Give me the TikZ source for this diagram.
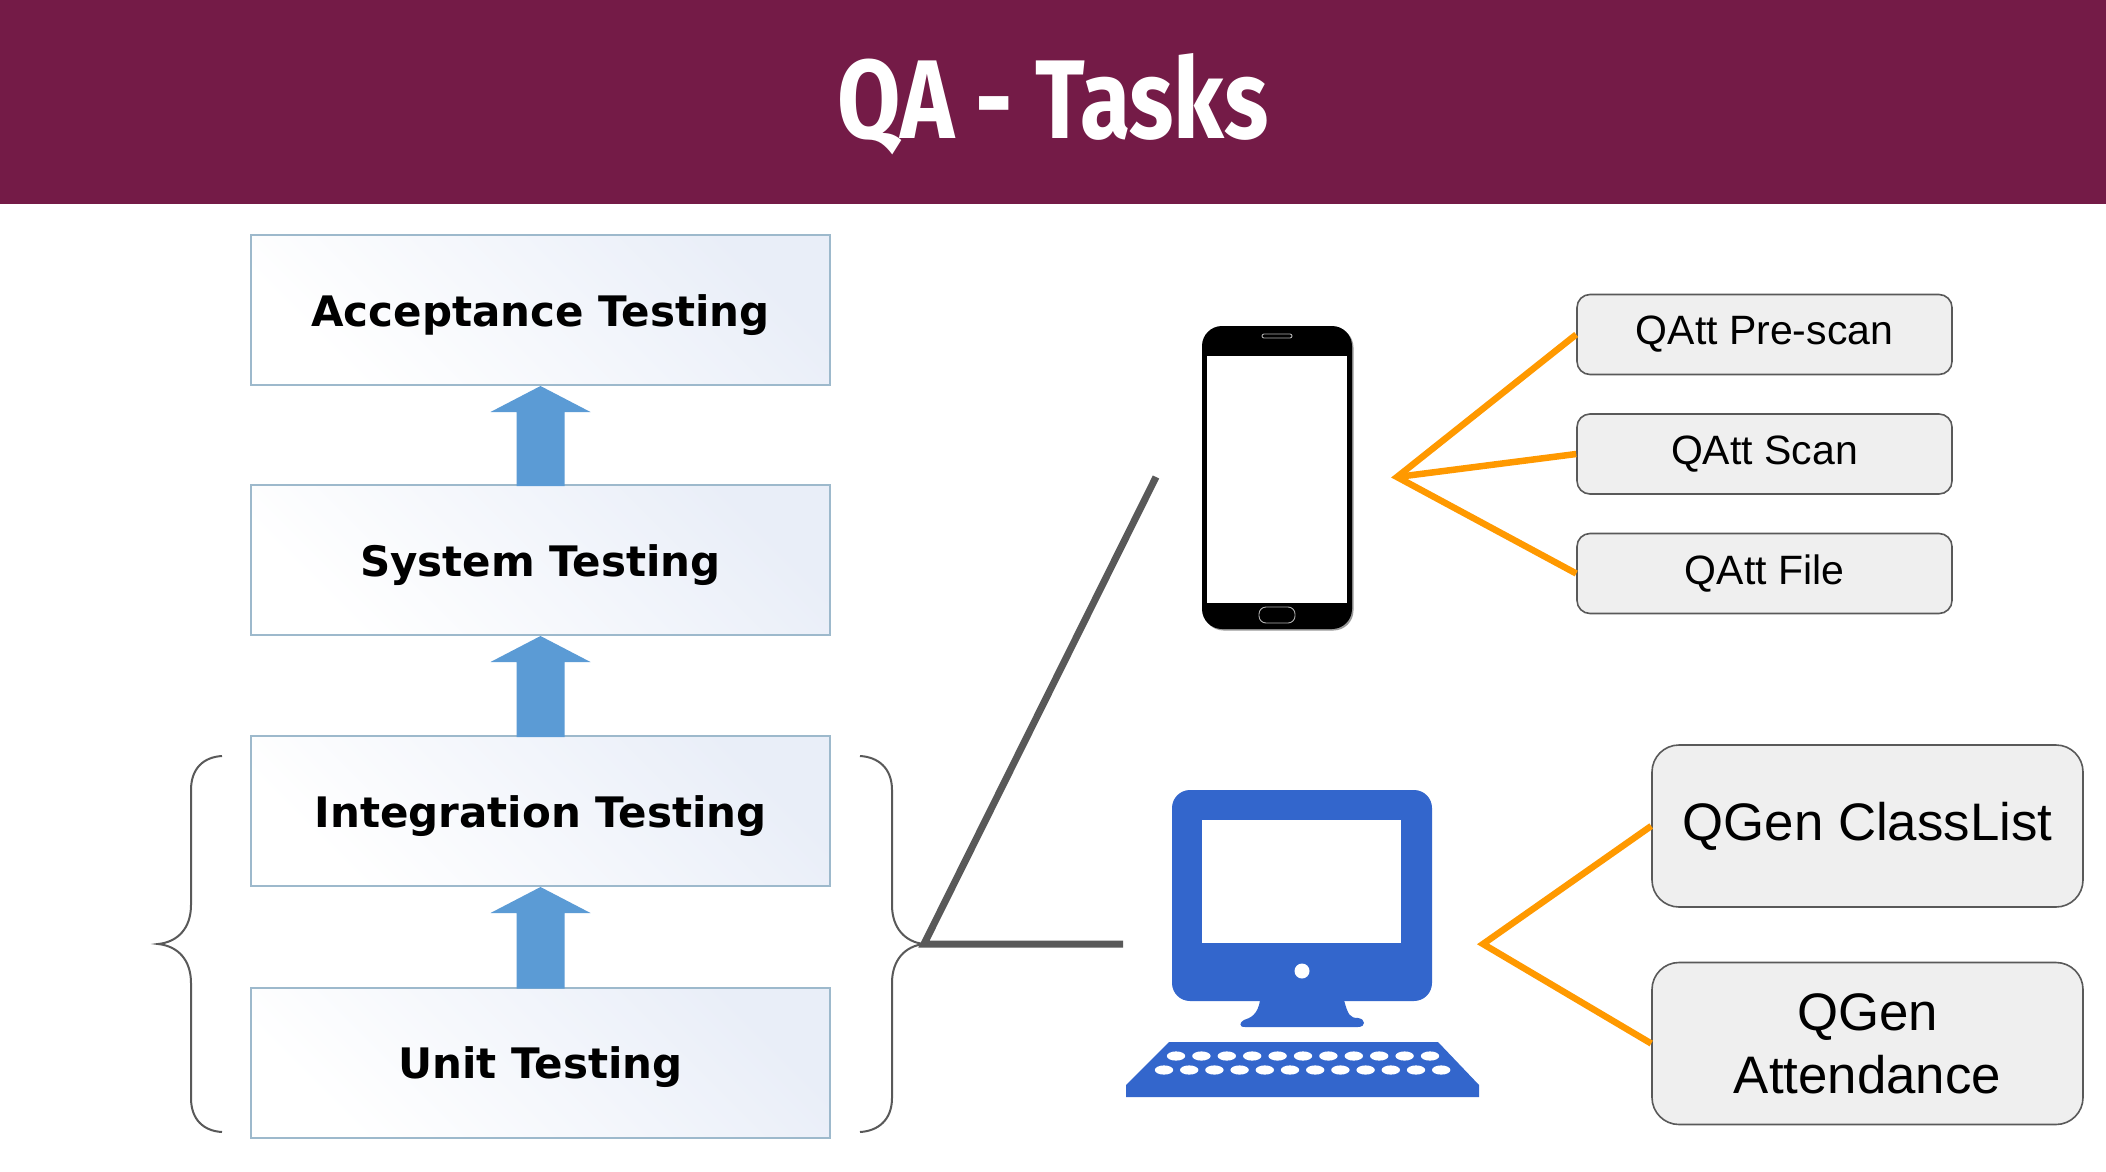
\documentclass[tikz,border=0pt]{standalone}
\usepackage{fontspec}
\usetikzlibrary{calc}
\setmainfont{Liberation Sans}
\newfontfamily\titlefont{Fira Sans}[UprightFont=* Bold]
\newfontfamily\tierfont{DejaVu Sans}[UprightFont=* Bold]
\definecolor{headbar}{HTML}{741B47}
\definecolor{greyline}{HTML}{595959}
\definecolor{orangeline}{HTML}{FF9900}
\definecolor{softbox}{HTML}{EFEFEF}
\definecolor{tierblue}{HTML}{5B9BD5}
\definecolor{tieredge}{HTML}{9DB9CC}
\definecolor{tiershade}{HTML}{E9EEF8}
\definecolor{pcblue}{HTML}{3366CC}
\tikzset{
  tierbox/.style={rectangle,draw=tieredge,line width=2pt,left color=tiershade,right color=white,shading angle=-45,
    minimum width=579pt,minimum height=150pt,inner sep=0pt,text depth=8pt,text height=40pt,
    font=\tierfont\fontsize{42}{48}\selectfont},
  tierarrow/.style={fill=tierblue,draw=none},
  smallbox/.style={rectangle,rounded corners=13pt,draw=greyline,line width=1.6pt,fill=softbox,
    minimum width=375pt,minimum height=80pt,inner sep=0pt,font=\fontsize{41}{47}\selectfont},
  largebox/.style={rectangle,rounded corners=27pt,draw=greyline,line width=1.6pt,fill=softbox,align=center,
    minimum width=431pt,minimum height=162pt,inner sep=0pt,font=\fontsize{52.8}{63}\selectfont},
  orangelink/.style={draw=orangeline,line width=6.5pt},
  greylink/.style={draw=greyline,line width=7pt},
  bracestroke/.style={draw=greyline,line width=2pt},
}
\newcommand{\tierup}[2]{%
  \fill[tierarrow] (#1.south) -- ++(50,26) -- ++(-26,0) -- ($(#2.north)+(24,2)$) -- ($(#2.north)+(-24,2)$)
    -- ($(#1.south)+(-24,26)$) -- ++(-26,0) -- cycle;}
\begin{document}
\begin{tikzpicture}[x=1pt,y=-1pt]
\path[use as bounding box,fill=white] (0,0) rectangle (2106,1172);
\fill[headbar] (0,0) rectangle (2106,204);
\node[anchor=base,text=white,inner sep=0pt] (title) at (1053,138)
  {\titlefont\fontsize{112}{112}\selectfont\scalebox{0.82}[1]{QA - Tasks}};

% test tiers
\node[tierbox] (acc) at (540.5,310) {Acceptance Testing};
\node[tierbox] (sys) at (540.5,560) {System Testing};
\node[tierbox] (int) at (540.5,811) {Integration Testing};
\node[tierbox] (unit) at (540.5,1062.5) {Unit Testing};
\tierup{acc}{sys}
\tierup{sys}{int}
\tierup{int}{unit}

% braces
\draw[bracestroke] (222,756) .. controls (204,757) and (191,768) .. (191,790) -- (191,905)
  .. controls (191,928) and (178,942) .. (158,944) .. controls (178,946) and (191,960) .. (191,983)
  -- (191,1098) .. controls (191,1120) and (204,1131) .. (222,1132);
\draw[bracestroke] (860,756) .. controls (878,757) and (892,768) .. (892,790) -- (892,905)
  .. controls (892,928) and (905,942) .. (924,944) .. controls (905,946) and (892,960) .. (892,983)
  -- (892,1098) .. controls (892,1120) and (878,1131) .. (860,1132);

% grey links
\coordinate (greyhub) at (924,944);
\coordinate (greyphone) at (1156,477);
\coordinate (greypc) at (1123,944);
\draw[greylink,line join=miter] (greyphone) -- (greyhub) -- (greypc);

% phone
\path[fill=gray!80,rounded corners=20pt] (1203.5,327.5) rectangle (1353.5,630.5);
\path[fill=black,rounded corners=20pt] (1202,326) rectangle (1352,629);
\fill[white] (1207,356) rectangle (1347,603);
\draw[white!70!black,line width=0.9pt,rounded corners=2pt] (1262,334) rectangle (1292,338);
\draw[white!70!black,line width=0.9pt,rounded corners=7pt] (1259,607) rectangle (1295,623);

% computer
\path[fill=pcblue,rounded corners=18pt] (1172,790) rectangle (1432,1001);
\fill[white] (1202,820) rectangle (1401,943);
\fill[white] (1302,971) circle (7.5);
\fill[pcblue] (1260,1000) .. controls (1258,1015) and (1250,1018) .. (1244,1020)
  .. controls (1240,1022) and (1238,1027) .. (1245,1027) -- (1358,1027)
  .. controls (1366,1027) and (1366,1019) .. (1358,1018)
  .. controls (1350,1018) and (1348,1015) .. (1344,1000) -- cycle;
\fill[pcblue] (1169,1042) -- (1438,1042) -- (1479,1085) -- (1479,1097) -- (1126,1097) -- (1126,1085) -- cycle;
\foreach \k in {0,...,10} \fill[white] ({1176+25.4*\k},1056) ellipse (9.2 and 4.6);
\foreach \k in {0,...,11} \fill[white] ({1164+25.2*\k},1070) ellipse (9.2 and 4.6);

% right boxes
\node[smallbox] (pre) at (1764.5,334.5) {QAtt Pre-scan};
\node[smallbox] (scan) at (1764.5,454) {QAtt Scan};
\node[smallbox] (file) at (1764.5,573.5) {QAtt File};
\node[largebox] (cl) at (1867.5,826) {QGen ClassList};
\node[largebox] (att) at (1867.5,1043.5) {QGen\\Attendance};

% orange links
\coordinate (phonehub) at (1397,477);
\coordinate (pchub) at (1483,944);
\draw[orangelink] (pre.west) -- (phonehub) -- (file.west);
\draw[orangelink] (phonehub) -- (scan.west);
\draw[orangelink] (cl.west) -- (pchub) -- (att.west);
\end{tikzpicture}
\end{document}
